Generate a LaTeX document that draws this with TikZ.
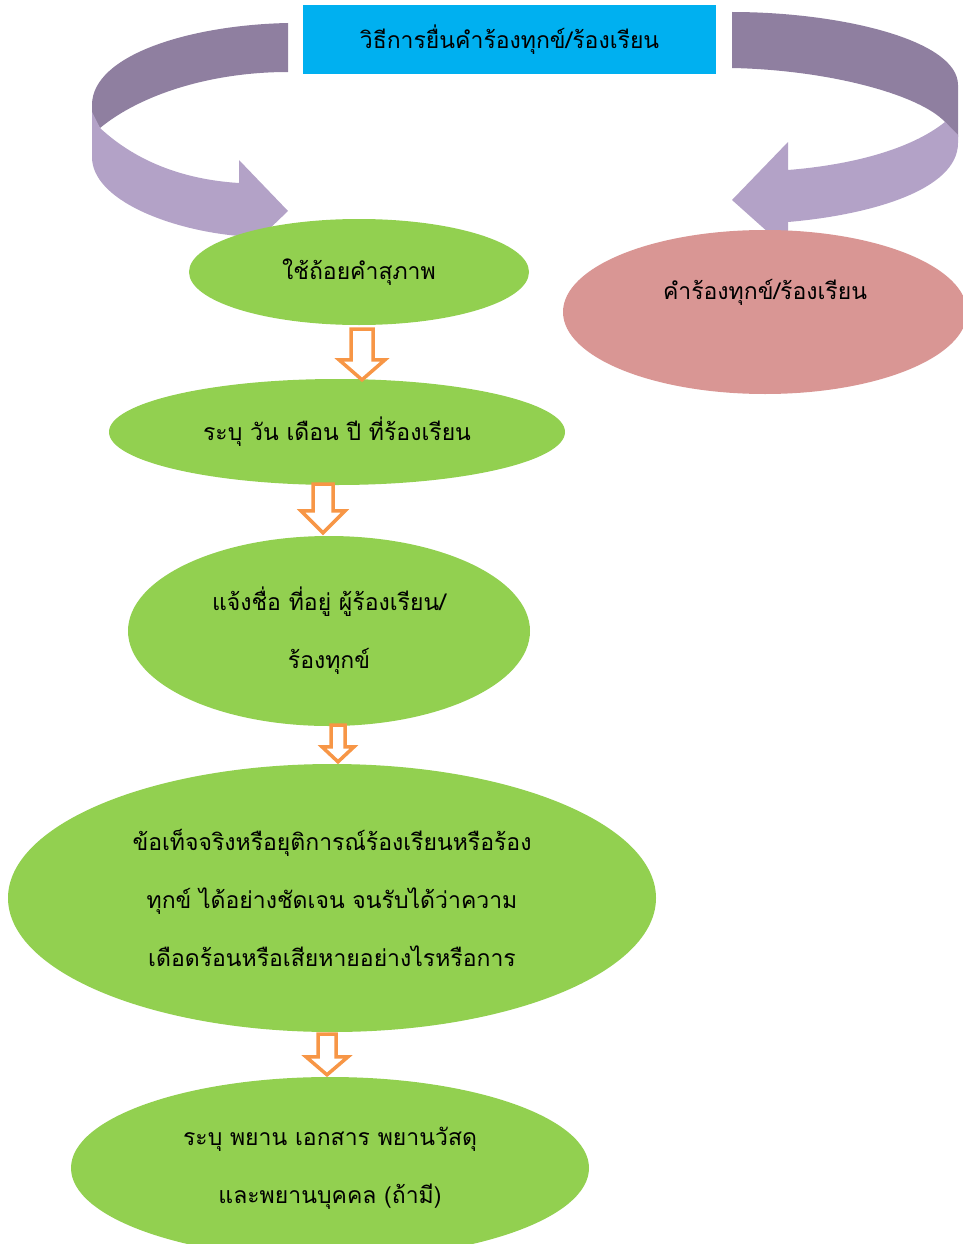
\documentclass[tikz,border=0pt]{standalone}
\usepackage{fontspec}
\newfontfamily\thaifont[Script=Thai]{Loma}
\usetikzlibrary{shapes.geometric,calc}
\definecolor{titleblue}{HTML}{00B0F0}
\definecolor{leafgreen}{HTML}{92D050}
\definecolor{pinkred}{HTML}{D99694}
\definecolor{bandlight}{HTML}{B3A2C7}
\definecolor{banddark}{HTML}{8F7FA0}
\definecolor{arrorange}{HTML}{F79646}

\begin{document}
\begin{tikzpicture}[x=1pt,y=-1pt,
  leaf/.style={ellipse,fill=leafgreen,inner sep=0pt,align=center,font=\thaifont\fontsize{23}{58}\selectfont},
  hollow/.style n args={3}{draw=arrorange,line width=3.5pt,fill=white,
    to path={let \p1=(\tikztostart),\p2=(\tikztotarget) in
      (\x1-#1,\y1) -- (\x1+#1,\y1) -- (\x1+#1,\y2+#3) -- (\x1+#2,\y2+#3)
      -- (\x1,\y2) -- (\x1-#2,\y2+#3) -- (\x1-#1,\y2+#3) -- cycle}}]
  \useasboundingbox (0,0) rectangle (963,1244);
  % curved arrows round the title
  \fill[banddark] (288,23) .. controls (190,25) and (92,55) .. (92,105) -- (92,115) -- (100,128)
    .. controls (140,95) and (210,72) .. (288,72) -- cycle;
  \fill[bandlight] (92,112) -- (92,157) .. controls (92,200) and (170,230) .. (239,236) -- (239,258)
    -- (288,211) -- (239,160) -- (239,183) .. controls (190,180) and (140,165) .. (100,128) -- cycle;
  \fill[banddark] (732,12) .. controls (840,12) and (958,40) .. (958,85) -- (958,137) -- (945,122)
    .. controls (920,95) and (830,70) .. (732,68) -- cycle;
  \fill[bandlight] (945,122) -- (958,135) -- (958,143) .. controls (958,190) and (870,215) .. (788,222)
    -- (788,250) -- (732,200) -- (788,142) -- (788,170) .. controls (850,165) and (910,150) .. (945,122) -- cycle;

  \node(title) at (509.5,39.5) [fill=titleblue,minimum width=413,minimum height=69,inner sep=0pt,
    font=\thaifont\fontsize{23}{28}\selectfont]{วิธีการยื่นคำร้องทุกข์/ร้องเรียน};
  \node(complaint) at (765,312) [leaf,fill=pinkred,minimum width=404,minimum height=164]
    {\raisebox{20pt}[\height][\depth]{คำร้องทุกข์/ร้องเรียน}};

  \node(polite)  at (359,272)  [leaf,minimum width=340,minimum height=106]{ใช้ถ้อยคำสุภาพ};
  \node(date)    at (337,432)  [leaf,minimum width=456,minimum height=106]{ระบุ วัน เดือน ปี ที่ร้องเรียน};
  \node(contact) at (329,631)  [leaf,minimum width=402,minimum height=190]{แจ้งชื่อ ที่อยู่ ผู้ร้องเรียน/\\ร้องทุกข์};
  \node(facts)   at (332,898)  [leaf,minimum width=648,minimum height=268]
    {ข้อเท็จจริงหรือยุติการณ์ร้องเรียนหรือร้อง\\ทุกข์ ได้อย่างชัดเจน จนรับได้ว่าความ\\เดือดร้อนหรือเสียหายอย่างไรหรือการ};
  \node(witness) at (330,1168) [leaf,minimum width=518,minimum height=182]
    {ระบุ พยาน เอกสาร พยานวัสดุ\\และพยานบุคคล (ถ้ามี)};

  \draw[hollow={11}{23}{20}] ($(polite.south)+(3,4)$)   to ($(date.north)+(0,1)$);
  \draw[hollow={10}{22}{22}] ($(date.south)+(-14,-1)$)  to ($(contact.north)+(0,-3)$);
  \draw[hollow={7}{16}{15}]  ($(contact.south)+(9,-1)$) to ($(facts.north)+(0,-2)$);
  \draw[hollow={9}{21}{18}]  ($(facts.south)+(-5,2)$)   to ($(witness.north)+(0,-2)$);
\end{tikzpicture}
\end{document}
